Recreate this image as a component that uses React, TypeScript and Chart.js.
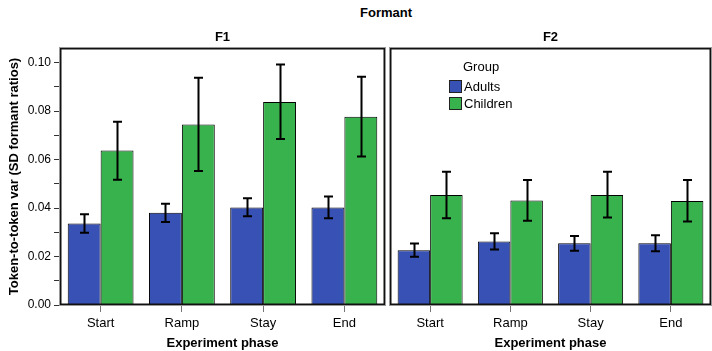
import React, { useEffect, useRef } from 'react';
import { Chart, registerables } from 'chart.js';
Chart.register(...registerables);

const categories = ['Start', 'Ramp', 'Stay', 'End'];
const groups = ['Adults', 'Children'];
const panels = ['F1', 'F2'];
const mainTitle = 'Formant';
const xTitle = 'Experiment phase';
const yTitle = 'Token-to-token var (SD formant ratios)';

const f1Adults = [0.0336, 0.038, 0.0402, 0.0402];
const f1AdultsLow = [0.0298, 0.0342, 0.0366, 0.0358];
const f1AdultsHigh = [0.0374, 0.0418, 0.044, 0.0447];
const f1Children = [0.0637, 0.0744, 0.0837, 0.0776];
const f1ChildrenLow = [0.0517, 0.0553, 0.0685, 0.0612];
const f1ChildrenHigh = [0.0756, 0.0937, 0.0992, 0.0941];

const f2Adults = [0.0226, 0.0262, 0.0255, 0.0255];
const f2AdultsLow = [0.0199, 0.0229, 0.0224, 0.0222];
const f2AdultsHigh = [0.0254, 0.0296, 0.0285, 0.0288];
const f2Children = [0.0454, 0.0431, 0.0454, 0.0429];
const f2ChildrenLow = [0.0358, 0.0347, 0.0361, 0.0344];
const f2ChildrenHigh = [0.055, 0.0516, 0.055, 0.0516];

const yMin = 0;
const yMax = 0.106;
const yStep = 0.01;

const BLUE = '#3851b5';
const GREEN = '#38b24d';
const FONT = '"Liberation Sans", Arial, Helvetica, sans-serif';

function panelPlugin(title: string, showLegend: boolean) {
  return {
    id: 'panel' + title,
    afterDatasetsDraw(chart: any) {
      const ctx = chart.ctx;
      const a = chart.chartArea;
      const ys = chart.scales.y;
      ctx.save();
      // error bars
      ctx.strokeStyle = '#000';
      ctx.lineWidth = 2;
      chart.data.datasets.forEach((ds: any, i: number) => {
        const meta = chart.getDatasetMeta(i);
        meta.data.forEach((bar: any, j: number) => {
          const x = Math.round(bar.x) + 0.5;
          const yl = ys.getPixelForValue(ds.errLow[j]);
          const yh = ys.getPixelForValue(ds.errHigh[j]);
          ctx.beginPath();
          ctx.moveTo(x, yl);
          ctx.lineTo(x, yh);
          ctx.moveTo(x - 4.5, yl);
          ctx.lineTo(x + 4.5, yl);
          ctx.moveTo(x - 4.5, yh);
          ctx.lineTo(x + 4.5, yh);
          ctx.stroke();
        });
      });
      // frame
      ctx.lineWidth = 1;
      ctx.strokeStyle = '#999';
      ctx.strokeRect(a.left - 0.5, a.top - 0.5, a.right - a.left + 1, a.bottom - a.top + 1);
      ctx.strokeStyle = '#111';
      ctx.lineWidth = 1.5;
      ctx.strokeRect(a.left + 0.75, a.top + 0.75, a.right - a.left - 1.5, a.bottom - a.top - 1.5);
      // panel title
      ctx.fillStyle = '#000';
      ctx.font = 'bold 13px ' + FONT;
      ctx.textAlign = 'center';
      ctx.textBaseline = 'middle';
      ctx.fillText(title, (a.left + a.right) / 2, a.top - 11);
      if (showLegend) {
        ctx.font = '13px ' + FONT;
        ctx.textAlign = 'left';
        ctx.fillText('Group', a.left + 73, a.top + 19);
        chart.data.datasets.forEach((ds: any, i: number) => {
          const by = a.top + 32 + i * 17;
          ctx.fillStyle = ds.backgroundColor;
          ctx.fillRect(a.left + 59, by, 13, 13);
          ctx.strokeStyle = '#222';
          ctx.lineWidth = 1;
          ctx.strokeRect(a.left + 59.5, by + 0.5, 12, 12);
          ctx.fillStyle = '#000';
          ctx.fillText(ds.label, a.left + 74, by + 7);
        });
      }
      ctx.restore();
    },
  };
}

function makeConfig(adults: number[], aLo: number[], aHi: number[], children: number[], cLo: number[], cHi: number[], title: string, showY: boolean, showLegend: boolean, padding: any) {
  return {
    type: 'bar' as const,
    data: {
      labels: categories,
      datasets: [
        { label: groups[0], data: adults, errLow: aLo, errHigh: aHi, backgroundColor: BLUE, borderColor: '#000', borderWidth: 1, barPercentage: 1, categoryPercentage: 0.81 },
        { label: groups[1], data: children, errLow: cLo, errHigh: cHi, backgroundColor: GREEN, borderColor: '#000', borderWidth: 1, barPercentage: 1, categoryPercentage: 0.81 },
      ],
    },
    options: {
      responsive: false,
      animation: false,
      events: [],
      layout: { padding },
      plugins: { legend: { display: false }, title: { display: false }, tooltip: { enabled: false } },
      scales: {
        x: {
          type: 'category',
          offset: true,
          grid: { offset: false, drawOnChartArea: false, drawTicks: true, tickLength: 7, color: '#777', lineWidth: 1 },
          border: { display: false },
          ticks: { color: '#000', font: { family: FONT, size: 13 }, padding: 4, maxRotation: 0 },
          title: { display: true, text: xTitle, color: '#000', font: { family: FONT, size: 13, weight: 'bold' }, padding: { top: 0, bottom: 0 } },
          afterFit: (s: any) => { s.height = 46; },
        },
        y: {
          display: showY,
          min: yMin,
          max: yMax,
          grid: { drawOnChartArea: false, drawTicks: true, tickLength: 6, color: '#333' },
          border: { display: false },
          ticks: {
            stepSize: yStep,
            color: '#000',
            padding: 3,
            font: { family: FONT, size: 12 },
            callback: (v: number) => {
              const k = v * 100;
              if (Math.abs(k - Math.round(k)) > 1e-6) return null;
              return Math.round(k) % 2 === 0 ? v.toFixed(2) : '';
            },
          },
          title: { display: true, text: yTitle, color: '#000', font: { family: FONT, size: 13, weight: 'bold' }, padding: { top: 7, bottom: 0 } },
          afterFit: (s: any) => { s.width = showY ? 60 : 0; },
        },
      },
    },
    plugins: [panelPlugin(title, showLegend)],
  };
}

export default function App() {
  const leftRef = useRef<HTMLCanvasElement>(null);
  const rightRef = useRef<HTMLCanvasElement>(null);
  useEffect(() => {
    const c1 = new Chart(leftRef.current as any, makeConfig(f1Adults, f1AdultsLow, f1AdultsHigh, f1Children, f1ChildrenLow, f1ChildrenHigh, panels[0], true, false, { top: 48, left: 0, right: 2, bottom: 0 }) as any);
    const c2 = new Chart(rightRef.current as any, makeConfig(f2Adults, f2AdultsLow, f2AdultsHigh, f2Children, f2ChildrenLow, f2ChildrenHigh, panels[1], false, true, { top: 48, left: 3, right: 1, bottom: 0 }) as any);
    return () => { c1.destroy(); c2.destroy(); };
  }, []);
  return (
    <div style={{ position: 'absolute', left: 0, top: 0, width: 712, height: 351, background: '#fff', overflow: 'hidden' }}>
      <div style={{ position: 'absolute', left: 386, top: 5, transform: 'translateX(-50%)', fontFamily: FONT, fontWeight: 'bold', fontSize: 13, lineHeight: '16px', whiteSpace: 'nowrap', color: '#000' }}>{mainTitle}</div>
      <canvas ref={leftRef} width={387} height={351} style={{ position: 'absolute', left: 0, top: 0 }} />
      <canvas ref={rightRef} width={325} height={351} style={{ position: 'absolute', left: 387, top: 0 }} />
    </div>
  );
}
